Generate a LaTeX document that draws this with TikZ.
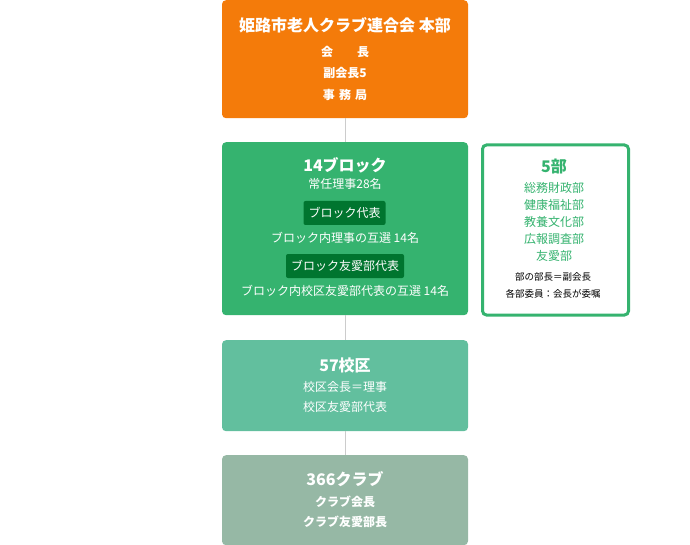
\documentclass[tikz,border=0pt]{standalone}
\usepackage{fontspec}
\setmainfont{Noto Sans CJK JP}
\usetikzlibrary{positioning}
\definecolor{cOrange}{HTML}{F47B0A}
\definecolor{cGreen}{HTML}{35B36F}
\definecolor{cMint}{HTML}{62BF9E}
\definecolor{cSage}{HTML}{96B8A5}
\definecolor{cDark}{HTML}{00752F}
\definecolor{cLine}{HTML}{CCCCCC}
\tikzset{
  box/.style={rectangle, rounded corners=4pt, minimum width=246pt, inner sep=0pt, anchor=north},
  tag/.style={rectangle, rounded corners=2pt, fill=cDark, text=white, font=\fontsize{12}{14}\selectfont, minimum height=24pt, inner xsep=5pt},
  ttl/.style={text=white, font=\fontsize{16}{18}\selectfont\bfseries},
  sub/.style={text=white, font=\fontsize{12}{14}\selectfont},
  subb/.style={text=white, font=\fontsize{12}{14}\selectfont\bfseries},
  gtxt/.style={text=cGreen, font=\fontsize{12}{14}\selectfont},
  ktxt/.style={text=black, font=\fontsize{9.5}{12}\selectfont},
  conn/.style={draw=cLine, line width=1pt}
}
\begin{document}
\begin{tikzpicture}[x=1pt,y=-1pt]
\useasboundingbox (0,0) rectangle (690,545);
% boxes
\node[box, fill=cOrange, minimum height=118pt] (hq) at (345,0) {};
\node[box, fill=cGreen, minimum height=173pt] (blk) at (345,142) {};
\node[box, fill=cMint, minimum height=91pt] (sch) at (345,340) {};
\node[box, fill=cSage, minimum height=90pt] (club) at (345,455) {};
\node[rectangle, rounded corners=4pt, draw=cGreen, line width=3pt, fill=white, minimum width=146pt, minimum height=170pt, anchor=north west] (dep) at (481,143.5) {};
% connectors
\draw[conn] (hq.south) -- (blk.north);
\draw[conn] (blk.south) -- (sch.north);
\draw[conn] (sch.south) -- (club.north);
% HQ text
\node[ttl] (hqt) at (345,25) {姫路市老人クラブ連合会 本部};
\node[subb] (hq1) at (345,52) {会\hspace{2em}長};
\node[subb] (hq2) at (345,73) {副会長5};
\node[subb] (hq3) at (345,95) {事\hspace{0.35em}務\hspace{0.35em}局};
% block text
\node[ttl] (bt) at (345,165) {14ブロック};
\node[sub] (b1) at (345,184) {常任理事28名};
\node[tag] (tag1) at (344.5,213) {ブロック代表};
\node[sub] (b2) at (345,238) {ブロック内理事の互選 14名};
\node[tag] (tag2) at (345,266) {ブロック友愛部代表};
\node[sub] (b3) at (345,291) {ブロック内校区友愛部代表の互選 14名};
% departments
\node[text=cGreen, font=\fontsize{16}{18}\selectfont\bfseries] (dt) at (554,167) {5部};
\node[gtxt] (d1) at (554,188) {総務財政部};
\node[gtxt] (d2) at (554,205) {健康福祉部};
\node[gtxt] (d3) at (554,222) {教養文化部};
\node[gtxt] (d4) at (554,239) {広報調査部};
\node[gtxt] (d5) at (554,256) {友愛部};
\node[ktxt] (d6) at (553,277) {部の部長＝副会長};
\node[ktxt] (d7) at (553,294) {各部委員：会長が委嘱};
% school districts
\node[ttl] (st) at (345,365) {57校区};
\node[sub] (s1) at (345,387) {校区会長＝理事};
\node[sub] (s2) at (345,407) {校区友愛部代表};
% clubs
\node[ttl] (ct) at (345,479) {366クラブ};
\node[subb] (c1) at (345,502) {クラブ会長};
\node[subb] (c2) at (345,522) {クラブ友愛部長};
\end{tikzpicture}
\end{document}
